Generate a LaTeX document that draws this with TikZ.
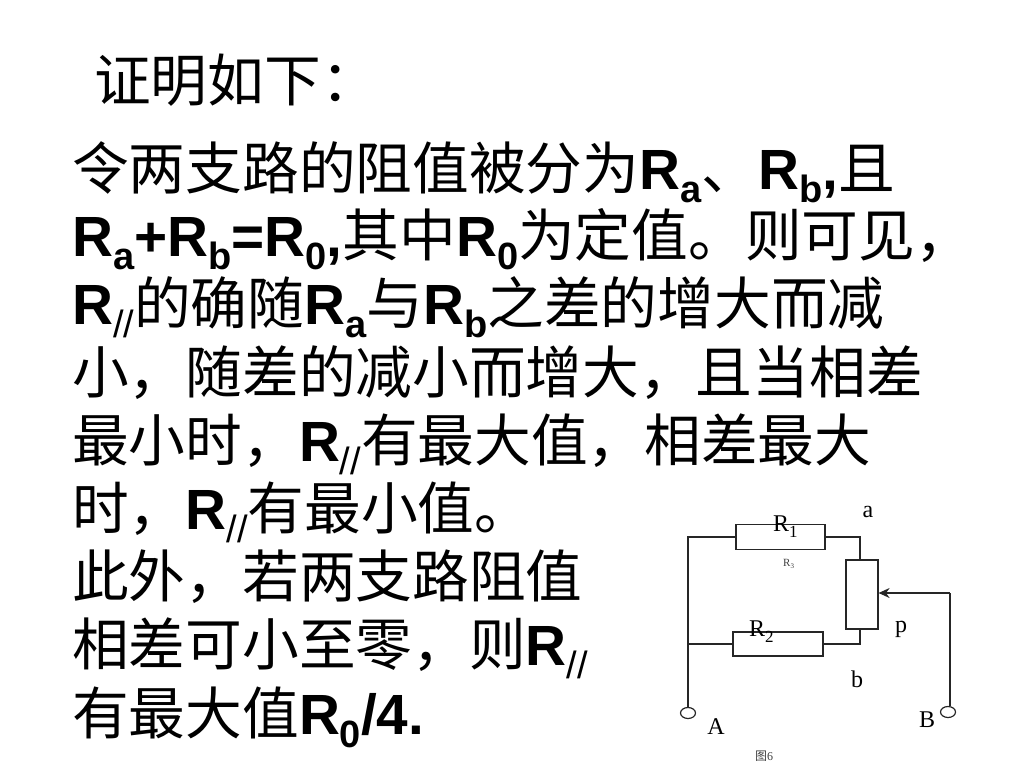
\documentclass[tikz,border=0pt]{standalone}
\usepackage{fontspec}
\setmainfont{Liberation Sans}
\newfontfamily\cjk{Noto Sans CJK SC}
\newfontfamily\serifl{Liberation Serif}
\usetikzlibrary{arrows.meta,shapes.geometric}
\newcommand{\zh}[1]{{\cjk #1}}
\newcommand{\La}[2]{\textbf{#1}\raisebox{-13pt}{\fontsize{38}{38}\selectfont\textbf{#2}}}
\newcommand{\Lp}{\textbf{R}\raisebox{-13pt}{\fontsize{38}{38}\selectfont //}}
\tikzset{
  para/.style={anchor=base west,inner sep=0pt,font=\fontsize{56.7}{60}\selectfont},
  wire/.style={draw=black!85,line width=1.2pt},
  resbox/.style={draw=black!85,line width=1.2pt,fill=white,inner sep=0pt},
  term/.style={draw=black!85,line width=1.2pt,fill=white,ellipse,inner sep=0pt,minimum width=15pt,minimum height=11pt},
  lab/.style={inner sep=0pt,font=\serifl\fontsize{24}{24}\selectfont},
}
\begin{document}
\begin{tikzpicture}[x=1pt,y=-1pt]
\useasboundingbox (0,0) rectangle (1024,768);
\fill[white] (0,0) rectangle (1024,768);
% text
\node[para] (t0) at (94,101) {\zh{证明如下\hspace{1pt}：}};
\node[para] (t1) at (72,189) {\zh{令两支路的阻值被分为}\La{R}{a}\zh{、}\La{R}{b}\textbf{,}\zh{且}};
\node[para] (t2) at (72,256) {\La{R}{a}\textbf{+}\La{R}{b}\textbf{=}\La{R}{0}\textbf{,}\zh{其中}\La{R}{0}\zh{为定值。则可见，}};
\node[para] (t3) at (72,324) {\Lp\zh{的确随}\La{R}{a}\zh{与}\La{R}{b}\zh{之差的增大而减}};
\node[para] (t4) at (72,393) {\zh{小，随差的减小而增大，且当相差}};
\node[para] (t5) at (72,461) {\zh{最小时，}\Lp\zh{有最大值，相差最大}};
\node[para] (t6) at (72,529) {\zh{时，}\Lp\zh{有最小值。}};
\node[para] (t7) at (72,597) {\zh{此外，若两支路阻值}};
\node[para] (t8) at (72,665) {\zh{相差可小至零，则}\Lp};
\node[para] (t9) at (72,734) {\zh{有最大值}\La{R}{0}\textbf{/4.}};
% circuit
\node[resbox,minimum width=89pt,minimum height=25pt] (r1) at (780.5,537) {};
\node[resbox,minimum width=90pt,minimum height=24pt] (r2) at (778,644) {};
\node[resbox,minimum width=32pt,minimum height=69pt] (pot) at (862,594.5) {};
\node[term] (A) at (688,713) {};
\node[term] (B) at (948,712) {};
\coordinate (tl) at (688,537);
\coordinate (tr) at (860,537);
\coordinate (bl) at (688,644);
\coordinate (br) at (860,644);
\coordinate (pin) at (950,593);
\draw[wire] (A.north) -- (tl) -- (r1.west);
\draw[wire] (r1.east) -- (tr) -- (tr |- pot.north);
\draw[wire] (bl) -- (r2.west);
\draw[wire] (r2.east) -- (br) -- (br |- pot.south);
\draw[wire] (pin) -- (B.north -| pin);
\draw[line width=1.2pt,draw=black!85,-{Stealth[length=11pt,width=10pt]}] (pin) -- (pot.east |- pin);
% labels
\node[lab] (la) at (868,512) {a};
\node[lab] (lb) at (857,679) {b};
\node[lab] (lp) at (901,629) {p};
\node[lab] (lA) at (716,727) {A};
\node[lab] (lB) at (927,720) {B};
\node[lab,anchor=base west] (lr1) at (773,531) {R\raisebox{-0.25em}{\fontsize{17}{17}\selectfont 1}};
\node[lab,anchor=base west] (lr2) at (749,636) {R\raisebox{-0.25em}{\fontsize{17}{17}\selectfont 2}};
\node[lab,anchor=base west,font=\serifl\fontsize{11}{11}\selectfont,text=black!75] (lr3) at (783,566) {R\raisebox{-0.25em}{\fontsize{7}{7}\selectfont 3}};
\node[lab,font=\fontsize{12}{12}\selectfont,text=black!75] (fig) at (764,756) {\cjk 图\serifl 6};
\end{tikzpicture}
\end{document}
